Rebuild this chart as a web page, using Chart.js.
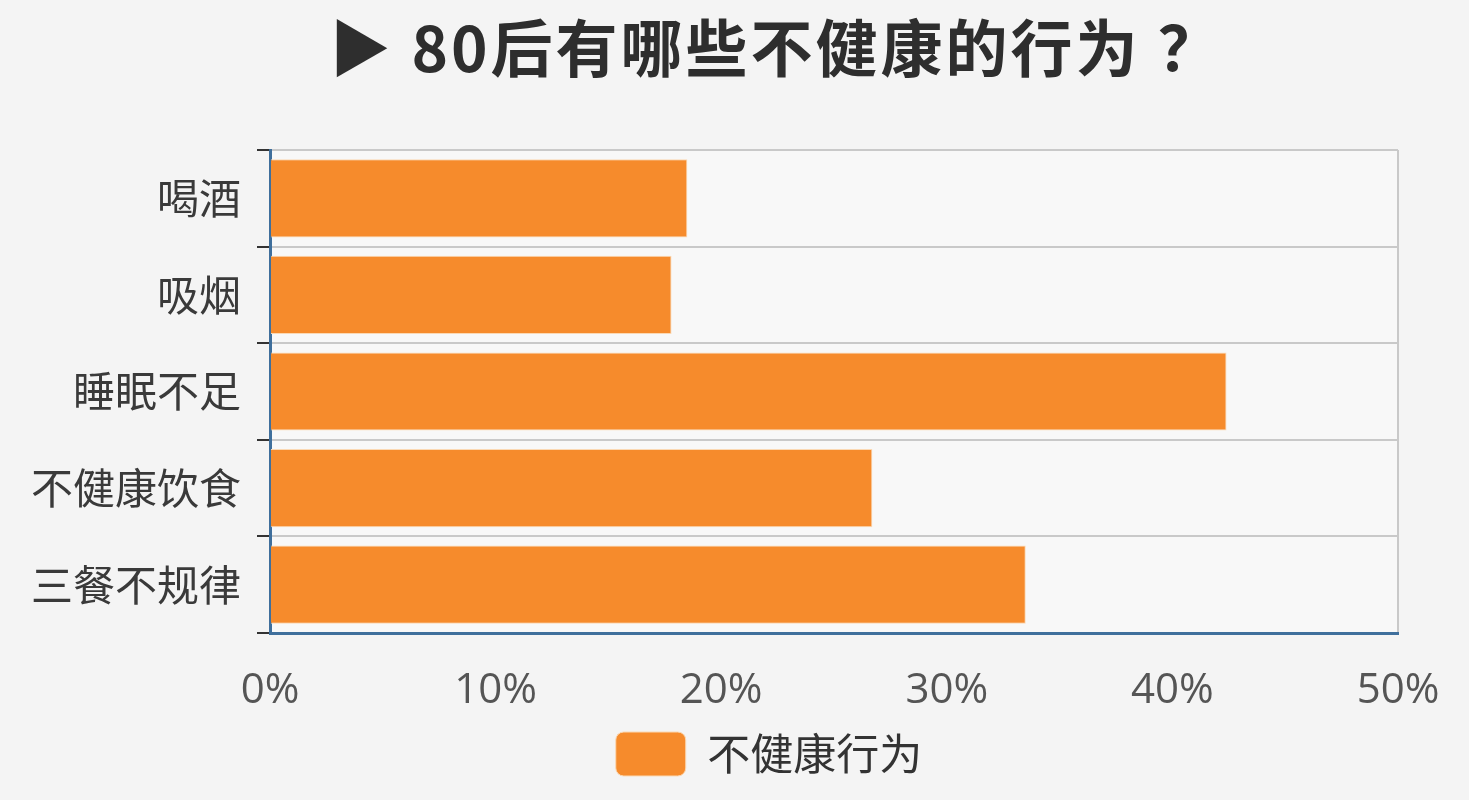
<!DOCTYPE html>
<html lang="zh">
<head>
<meta charset="utf-8">
<title>80后有哪些不健康的行为？</title>
<script src="https://cdn.jsdelivr.net/npm/chart.js@4"></script>
<style>
  html, body { margin: 0; padding: 0; background: #f4f4f4; }
  #wrap { width: 1469px; height: 800px; }
</style>
</head>
<body>
<div id="wrap"><canvas id="chart" width="1469" height="800"></canvas></div>
<script>
// datos
const titleText  = '▶ 80后有哪些不健康的行为 ？';
const categories = ['喝酒', '吸烟', '睡眠不足', '不健康饮食', '三餐不规律'];
const values     = [18.5, 17.8, 42.4, 26.7, 33.5];
const seriesName = '不健康行为';
const xMax  = 50;
const xStep = 10;

const barColor  = '#f68b2c';
const axisBlue  = '#3f6f9c';
const gridGray  = '#c9c9c9';
const cjkFont   = '"Noto Sans CJK SC", "Noto Sans", sans-serif';

// fondo, título y desplazamiento de la leyenda
const decor = {
  id: 'decor',
  afterLayout(chart) {
    // la leyenda del original está algo a la derecha del centro
    chart.legend.left += 70;
    chart.legend.right += 70;
  },
  beforeDraw(chart) {
    const { ctx, chartArea: a } = chart;
    ctx.save();
    ctx.fillStyle = '#f4f4f4';
    ctx.fillRect(0, 0, chart.width, chart.height);
    ctx.fillStyle = '#f8f8f8';
    ctx.fillRect(a.left, a.top, a.right - a.left, a.bottom - a.top);
    ctx.restore();
  },
  afterDraw(chart) {
    const ctx = chart.ctx;
    ctx.save();
    ctx.font = 'bold 62px ' + cjkFont;
    ctx.letterSpacing = '3px';
    ctx.fillStyle = '#2e2e2e';
    ctx.textAlign = 'center';
    ctx.textBaseline = 'middle';
    ctx.fillText(titleText, 776, 48);
    ctx.restore();
  }
};

const chart = new Chart(document.getElementById('chart'), {
  type: 'bar',
  data: {
    labels: categories,
    datasets: [{
      label: seriesName,
      data: values,
      backgroundColor: barColor,
      borderColor: '#fbd9b4',
      borderWidth: 1,
      barPercentage: 0.81,
      categoryPercentage: 1
    }]
  },
  options: {
    indexAxis: 'y',
    responsive: false,
    devicePixelRatio: 1,
    animation: false,
    layout: { padding: { top: 150, right: 71, bottom: 14, left: 0 } },
    plugins: {
      title: { display: false },
      tooltip: { enabled: false },
      legend: {
        position: 'bottom',
        labels: {
          boxWidth: 70,
          boxHeight: 44,
          useBorderRadius: true,
          borderRadius: 8,
          color: '#333',
          font: { size: 43, family: cjkFont },
          padding: 8
        }
      }
    },
    scales: {
      x: {
        min: 0,
        max: xMax,
        ticks: {
          stepSize: xStep,
          color: '#555',
          padding: 33,
          font: { size: 42, family: '"Open Sans", "Noto Sans", sans-serif' },
          callback: v => v + '%'
        },
        grid: {
          drawTicks: false,
          color: c => (c.tick && c.tick.value === xMax) ? gridGray : 'rgba(0,0,0,0)',
          lineWidth: 2
        },
        border: { color: axisBlue, width: 3 },
        afterFit(scale) {
          scale.height = 91;
          scale.paddingRight = 0;
        }
      },
      y: {
        ticks: {
          color: '#3a3a3a',
          padding: 16,
          font: { size: 42, family: cjkFont }
        },
        grid: {
          color: gridGray,
          lineWidth: 2,
          tickColor: '#333',
          tickLength: 13,
          tickWidth: 2
        },
        border: { color: axisBlue, width: 3 },
        afterFit(scale) { scale.width = 270; }
      }
    }
  },
  plugins: [decor]
});
</script>
</body>
</html>
